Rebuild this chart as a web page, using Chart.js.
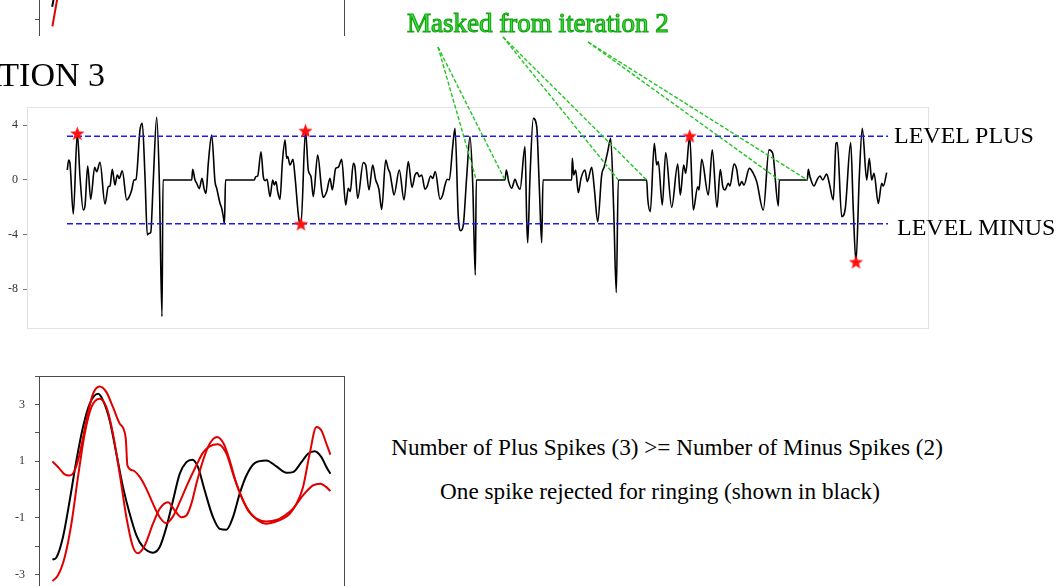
<!DOCTYPE html>
<html>
<head>
<meta charset="utf-8">
<script src="https://cdn.jsdelivr.net/npm/chart.js@4.4.0/dist/chart.umd.min.js"></script>
<style>
  html, body { margin: 0; padding: 0; background: #fff; }
  body { width: 1059px; height: 586px; overflow: hidden; position: relative;
         font-family: 'Liberation Serif', 'Times New Roman', serif; }
  canvas { position: absolute; }
  .t { position: absolute; white-space: nowrap; color: #000; line-height: 1; }
  #masked { color: #3fdc3f; -webkit-text-stroke: 1.1px #13a613; }
</style>
</head>
<body>
<canvas id="prev" width="360" height="250" style="left:0;top:-214px"></canvas>
<canvas id="main" width="1059" height="330" style="left:0;top:0"></canvas>
<canvas id="wave" width="360" height="260" style="left:0;top:370px"></canvas>

<div class="t" style="font-size:34px;right:954px;top:57.5px">ITERATION 3</div>
<div class="t" id="masked" style="font-size:27px;left:407px;top:10px">Masked from iteration 2</div>
<div class="t" style="font-size:24px;left:894px;top:122.6px">LEVEL PLUS</div>
<div class="t" style="font-size:24px;left:897px;top:214.9px">LEVEL MINUS</div>
<div class="t" style="font-size:23.2px;left:667px;top:435.6px;transform:translateX(-50%)">Number of Plus Spikes (3) &gt;= Number of Minus Spikes (2)</div>
<div class="t" style="font-size:23.2px;left:660px;top:479.6px;transform:translateX(-50%)">One spike rejected for ringing (shown in black)</div>

<script>
// ---- iteration 3 signal (sample index, amplitude) ----
const sigT = [40.3,41.7,43,46.3,50.3,53,56.3,58,60.7,63.7,67.7,69.7,73,78,81.3,83,85.3,88,90.3,92.3,95.3,99.7,102.3,104.7,107,109,113,115.3,118,120.3,122.3,123.7,126.3,129.7,132.3,135,136,164.7,165.7,168,169.7,172.3,175,177,179,181.3,184.7,188,189.7,193,194.7,196.3,197.5,198.5,227.3,
  228.7,230.7,234,236.3,238,240,243,245.7,247.3,249,250.7,253,255.3,258,259.7,260.7,263,266,268,272,274,278.5,281.3,284,286.3,290.7,294.7,296.3,299.7,303,305.3,308.7,311.3,314.7,318.7,321.3,323.3,326.3,328,330.7,336.3,338.7,342,345.7,348.7,350.7,352,354.7,358.7,361.3,363,364.7,367,
  372.3,377,381.3,385,388,390.3,392.3,394.7,398,400.3,403.7,405.7,408.3,413,415.7,418,420.3,422.3,425.7,428,431.3,433.7,436.3,439.7,443,445.7,448.3,449.3,478,479.3,481.7,484.7,488,490.3,493,498,499.7,500.7,503,506.3,509.7,512.3,514.7,516,544.7,
  545.3,546.7,548.7,551.3,554,558,560.3,564.7,567.3,570.7,574.7,577.3,580.7,583.7,586.7,589.3,591.3,619.7,620.7,623.3,627.3,629.7,631.3,635.3,638.7,644.7,650.7,653.3,656.7,658.7,662.7,666.3,670.7,672,674.7,681.3,685.3,690,693.3,695.8,698,701.3,703,707,709.7,712.3,714.7,717,722.3,726.3,729.7,736.3,742,745.7,751.3,752.3,780.3,781.3,783,787,790.3,793,795.7,799.7,802.3,806.3,809,810.3,814.7,818.3,823.7,826.3,829,832.3,835.3,839.7,842.3,844.7,847,851.3,854.7,856.3,859.7];
const sigV = [0.73,1.46,1.2,-2.49,3.41,0.24,-2.2,-1.9,1.02,-1.41,0.93,0.6,1.3,-1.76,-0.49,-0.44,0.78,-0.37,0.37,0.12,0.68,-1.46,-1.22,-0.73,0,0.05,3.66,4.15,0.24,-4.02,-3.9,-3.85,0,4.59,0,-10.0,0,0,0.78,0,-0.24,-0.63,0.12,-0.61,-0.98,1.22,3.29,-0.12,-0.61,-1.7,-2.07,-2.68,-3.2,0,0,
  0.24,0.29,2.07,0.24,-0.05,0.05,-1.22,0,-0.37,-0.12,-0.85,-1.41,1.22,2.93,1.59,1.71,1.1,1.51,0.24,-2.93,-3.22,3.6,0.73,0.24,-1.22,1.83,-0.73,-1.27,-0.85,0.12,-0.73,0.85,0.93,1.51,-1.83,-0.61,-0.85,1.22,0.93,-1.34,1.27,1.1,-0.73,1.1,0,-0.37,-0.73,-2.15,1.46,0.78,0.5,-0.24,-1.1,
  0.73,-1.46,1.34,-0.54,0.37,0.54,0.24,0.37,-0.68,-0.44,0.29,0.12,0.61,-1.41,-1.1,-0.37,0.05,0,2.44,3.78,-2.68,-3.71,-3.29,0.24,3.17,-0.24,-6.95,0,0,0.73,-0.12,-0.61,0.05,-0.37,-0.68,2.44,-2.93,-4.59,0.24,4.51,3.9,-0.49,-4.59,0,0,
  1.59,0.37,0.73,-0.93,0.12,0.73,-0.12,0.93,-0.61,-3.05,0.37,0.98,2.07,3.05,-2.2,-8.24,0,0,-1.34,-2.32,2.68,1.1,1.34,-1.83,2.0,-2.0,1.17,-1.1,1.1,0.49,3.22,-2.2,-0.49,-0.73,1.51,-1.1,2.2,-2.0,0.76,-0.49,-0.73,-0.24,-0.44,1.17,0.78,-0.44,-0.12,-0.37,0.85,0.49,-0.12,-2.2,2.2,1.95,-1.9,0,0,0.78,0.24,-0.44,0.05,0.29,0,0.44,-0.24,-1.46,2.68,2.73,-2.68,-2.07,2.73,-2.2,-6.0,0.24,3.78,0,1.59,0,0.49,-1.71,-0.24,-0.44,0.54];

// detection thresholds
const levelPlus = 3.2;
const levelMinus = -3.2;
const levelSpan = [40, 861];

// accepted spikes
const starT = [50.3, 278.5, 274, 662.7, 829];
const starV = [3.41, 3.6, -3.22, 3.22, -6.0];

// segments masked in iteration 2 (start, end sample)
const maskStart = [449.3, 591.3, 752.3];
const maskEnd = [478, 619.7, 780.3];

const mainTicks = [-8, -4, 0, 4];

// ---- spike waveforms ----
const blackT = [13.4,17.4,24,30.7,37.4,44,50.7,59,64,70.7,77.4,84,90.7,97.4,104,114,120.7,127.4,134,140.7,147.4,153.4,159,165.7,174,180.7,187.4,194,200.7,207.4,215.7,227.4,237.4,247.4,254,262.4,269,275.7,282.4,287.4,291.4];
const blackV = [-2.48,-2.4,-1.68,-0.39,1.02,2.2,3.02,3.37,3.14,2.43,1.26,0.08,-0.86,-1.62,-2.03,-2.23,-2.03,-1.33,-0.39,0.55,0.96,1.05,0.79,-0.04,-0.98,-1.39,-1.42,-0.98,-0.15,0.49,0.93,1.02,0.81,0.59,0.61,0.96,1.26,1.35,1.14,0.79,0.55];

const redAT = [13.4,19,25.7,30.7,35.7,40.7,47.4,54,60.7,67.4,74,80.7,86.7,88.4,94,100.7,107.4,114,120.7,127.4,134,140.7,147.4,157.4,164,170.7,179,187.4,194,200.7,209,217.4,227.4,237.4,245.7,254,264,274,281.4,287.4,291.4];
const redAV = [0.99,0.79,0.53,0.49,0.67,1.26,2.43,3.37,3.63,3.43,2.9,2.32,1.82,0.85,0.67,0.44,0.02,-0.51,-0.98,-1.19,-0.95,-0.45,0.1,0.85,1.3,1.52,1.59,1.26,0.55,-0.1,-0.74,-1.03,-1.13,-1.08,-0.92,-0.68,-0.21,0.14,0.2,0.08,-0.06];

const redBT = [13.4,19,25.7,32.4,39,45.7,52.4,60.7,67.4,74,80.7,87.4,94,99,105.7,114,120.7,129,135.7,142.4,147.4,152.4,157.4,164,170.7,178,184.7,190.7,197.4,204,210.7,219,227.4,235.7,244,250.7,257.4,264,270.7,277.4,282.4,287.4,291.4];
const redBV = [-3.23,-3.03,-2.39,-1.21,0.44,1.96,2.9,3.2,2.9,1.96,0.55,-0.98,-2.03,-2.25,-1.98,-1.21,-0.68,-0.45,-0.74,-0.98,-0.92,-0.5,0.2,1.02,1.61,1.85,1.61,1.02,0.2,-0.39,-0.8,-1.09,-1.21,-1.15,-1.03,-0.86,-0.51,0.08,1.26,2.2,2.08,1.61,1.23];

// previous iteration's waveform panel (only its lower edge is in view)
const prevBlackT = [13.2, 14.5, 17, 22];
const prevBlackV = [-3.55, -3.3, -2.6, -1.2];
const prevRedT = [13.4, 18, 22, 28];
const prevRedV = [-4.24, -3.32, -2.5, -1.0];

const SERIF = "'Liberation Serif', 'Times New Roman', serif";
const pts = (xs, ys) => xs.map((x, i) => ({ x, y: ys[i] }));

// filled five-point star marker
function makeStar(size, color) {
  const c = document.createElement('canvas');
  c.width = size; c.height = size;
  const g = c.getContext('2d');
  const cx = size / 2, cy = size / 2, R = size / 2, r = R * 0.42;
  g.beginPath();
  for (let i = 0; i < 10; i++) {
    const rad = i % 2 === 0 ? R : r;
    const a = -Math.PI / 2 + i * Math.PI / 5;
    const px = cx + rad * Math.cos(a), py = cy + rad * Math.sin(a) + 0.6;
    if (i === 0) g.moveTo(px, py); else g.lineTo(px, py);
  }
  g.closePath();
  g.fillStyle = color;
  g.fill();
  return c;
}
const starImg = makeStar(15, '#ff1010');

// light frame around the plotting area
const lightFrame = {
  id: 'lightFrame',
  beforeDatasetsDraw(chart) {
    const { ctx, chartArea: a } = chart;
    ctx.save();
    ctx.strokeStyle = '#e2e2e2';
    ctx.lineWidth = 1;
    ctx.strokeRect(Math.round(a.left) + 0.5, Math.round(a.top) + 0.5,
                   Math.round(a.right - a.left), Math.round(a.bottom - a.top));
    ctx.restore();
  }
};

// dark box around a waveform panel
const darkBox = {
  id: 'darkBox',
  afterDatasetsDraw(chart) {
    const { ctx, chartArea: a } = chart;
    ctx.save();
    ctx.strokeStyle = '#4a4a4a';
    ctx.lineWidth = 1;
    ctx.strokeRect(Math.round(a.left) + 0.5, Math.round(a.top) + 0.5,
                   Math.round(a.right - a.left), Math.round(a.bottom - a.top));
    ctx.restore();
  }
};

// dashed leaders from the caption to each masked segment
const leaderOrigins = [[438, 47], [503, 37], [588, 42]];
const maskLeaders = {
  id: 'maskLeaders',
  afterDraw(chart) {
    const { ctx } = chart;
    const xs = chart.scales.x, ys = chart.scales.y;
    const y0 = ys.getPixelForValue(0);
    ctx.save();
    ctx.strokeStyle = '#22c422';
    ctx.lineWidth = 1.4;
    ctx.setLineDash([4, 2]);
    maskStart.forEach((s, i) => {
      const [ox, oy] = leaderOrigins[i];
      [s, maskEnd[i]].forEach(t => {
        ctx.beginPath();
        ctx.moveTo(ox, oy);
        ctx.lineTo(xs.getPixelForValue(t), y0);
        ctx.stroke();
      });
    });
    ctx.restore();
  }
};

// keep the plotting area exactly where the layout padding puts it
function fixedAxis(width) {
  return function (s) {
    s.width = width;
    s.paddingTop = 0;
    s.paddingBottom = 0;
  };
}

Chart.defaults.font.family = SERIF;

new Chart(document.getElementById('main'), {
  type: 'line',
  data: {
    datasets: [
      { data: pts(sigT, sigV), borderColor: '#000', borderWidth: 1.6, pointRadius: 0,
        cubicInterpolationMode: 'monotone', order: 3 },
      { data: pts(levelSpan, [levelPlus, levelPlus]), borderColor: '#1a1aff', borderWidth: 1.5,
        borderDash: [6, 3], pointRadius: 0, order: 2 },
      { data: pts(levelSpan, [levelMinus, levelMinus]), borderColor: '#1a1aff', borderWidth: 1.5,
        borderDash: [6, 3], pointRadius: 0, order: 2 },
      { data: pts(starT, starV), showLine: false, pointStyle: starImg, pointRadius: 7,
        clip: false, order: 1 }
    ]
  },
  options: {
    responsive: false, animation: false, devicePixelRatio: 1, events: [],
    layout: { autoPadding: false, padding: { top: 107, right: 131, bottom: 2, left: 0 } },
    plugins: { legend: { display: false }, tooltip: { enabled: false } },
    scales: {
      x: { type: 'linear', min: 0, max: 901, display: false },
      y: {
        min: -10.83, max: 5.34,
        afterFit: fixedAxis(27),
        afterBuildTicks(s) { s.ticks = mainTicks.map(v => ({ value: v })); },
        grid: { drawOnChartArea: false, drawTicks: true, tickLength: 4, color: '#777' },
        border: { display: true, color: '#a0a0a0' },
        ticks: { padding: 5, color: '#333', font: { family: SERIF, size: 12 } }
      }
    }
  },
  plugins: [lightFrame, maskLeaders]
});

function wavePanel(id, datasets, yMin, pad) {
  return new Chart(document.getElementById(id), {
    type: 'line',
    data: { datasets },
    options: {
      responsive: false, animation: false, devicePixelRatio: 1, events: [],
      layout: { autoPadding: false, padding: pad },
      plugins: { legend: { display: false }, tooltip: { enabled: false } },
      scales: {
        x: { type: 'linear', min: 0, max: 305, display: false },
        y: {
          min: yMin, max: 4,
          afterFit: fixedAxis(39),
          afterBuildTicks(s) {
            const out = [];
            for (let v = Math.ceil(yMin); v <= 4; v++) out.push({ value: v });
            s.ticks = out;
          },
          grid: { drawOnChartArea: false, drawTicks: true, tickLength: 4, color: '#555' },
          border: { display: true, color: '#4a4a4a' },
          ticks: {
            autoSkip: false, padding: 10, color: '#333', font: { family: SERIF, size: 12 },
            callback: v => (Math.abs(v) % 2 === 1 ? String(v) : '')
          }
        }
      }
    },
    plugins: [darkBox]
  });
}

const waveLine = (xs, ys, color, order) => ({
  data: pts(xs, ys), borderColor: color, borderWidth: 2, pointRadius: 0,
  cubicInterpolationMode: 'monotone', order
});

wavePanel('wave', [
  waveLine(blackT, blackV, '#000', 2),
  waveLine(redAT, redAV, '#e00000', 1),
  waveLine(redBT, redBV, '#e00000', 1)
], -4.5, { top: 6, right: 16, bottom: 13, left: 0 });

wavePanel('prev', [
  waveLine(prevBlackT, prevBlackV, '#000', 2),
  waveLine(prevRedT, prevRedV, '#e00000', 1)
], -4.58, { top: 6.5, right: 16, bottom: 0, left: 0 });
</script>
</body>
</html>
